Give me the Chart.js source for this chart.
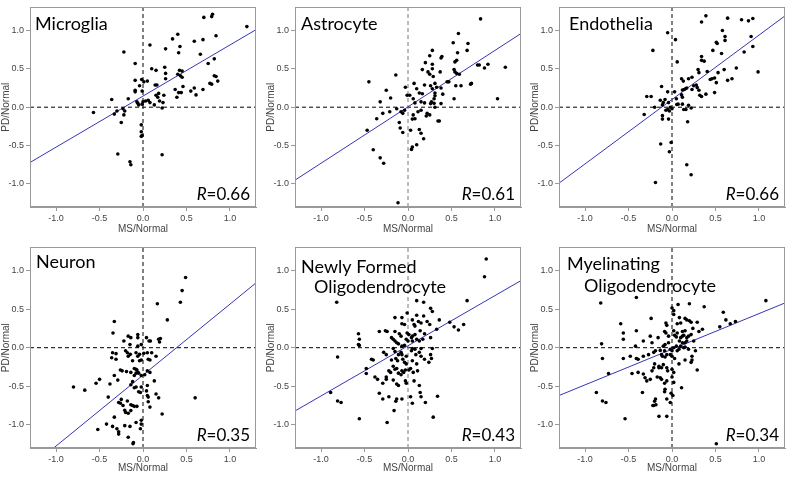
<!DOCTYPE html>
<html lang="en">
<head>
  <meta charset="UTF-8">
  <title>MS vs PD cell-type scatter</title>
  <script src="https://cdn.jsdelivr.net/npm/chart.js"></script>
  <style>
    body { margin: 0; background: #fff; }
    .panel { position: absolute; width: 260px; }
  </style>
</head>
<body>
  <div class="panel" style="left:0px;top:0px;height:238px"><canvas id="c0"></canvas></div>
  <div class="panel" style="left:265px;top:0px;height:238px"><canvas id="c1"></canvas></div>
  <div class="panel" style="left:529px;top:0px;height:238px"><canvas id="c2"></canvas></div>
  <div class="panel" style="left:0px;top:240px;height:237px"><canvas id="c3"></canvas></div>
  <div class="panel" style="left:265px;top:240px;height:237px"><canvas id="c4"></canvas></div>
  <div class="panel" style="left:529px;top:240px;height:237px"><canvas id="c5"></canvas></div>

<script>
// ---- data: [MS/Normal, PD/Normal] ----
const microglia = [[1.195,1.05],[0.70,1.17],[0.80,1.21],[0.79,1.18],[0.84,0.93],[0.69,0.88],[0.59,0.86],[0.34,0.89],[0.40,0.95],[0.425,0.79],[0.41,0.71],[0.26,0.76],[0.08,0.81],[-0.22,0.72],[0.66,0.69],[0.82,0.63],[0.75,0.57],[-0.09,0.57],[0.10,0.50],[0.15,0.48],[0.25,0.52],[0.26,0.44],[0.40,0.43],[0.42,0.48],[0.45,0.47],[0.43,0.41],[0.45,0.39],[0.26,0.37],[0.46,0.27],[0.82,0.41],[0.84,0.40],[0.86,0.34],[0.77,0.31],[0.79,0.30],[0.69,0.23],[0.59,0.25],[0.55,0.21],[0.61,0.16],[0.37,0.23],[0.41,0.19],[0.44,0.19],[0.39,0.13],[-0.015,0.36],[0.01,0.33],[-0.09,0.35],[-0.09,0.22],[-0.09,0.20],[-0.04,0.28],[-0.01,0.21],[0.05,0.34],[0.14,0.29],[0.16,0.29],[0.18,0.18],[0.15,0.155],[0.17,0.13],[0.06,0.09],[0.08,0.06],[0.03,0.08],[0.0,0.07],[-0.07,0.07],[-0.06,0.05],[-0.05,0.03],[-0.01,0.04],[0.13,0.03],[0.19,0.08],[0.23,0.06],[0.24,0.155],[0.22,-0.01],[-0.17,0.11],[-0.36,0.10],[-0.57,-0.07],[-0.33,-0.09],[-0.30,-0.05],[-0.23,-0.02],[-0.21,-0.05],[-0.22,-0.10],[-0.25,-0.20],[-0.02,-0.23],[-0.02,-0.32],[-0.01,-0.37],[-0.02,-0.38],[0.22,-0.62],[-0.29,-0.61],[-0.15,-0.71],[-0.14,-0.75]];

const astrocyte = [[0.58,0.96],[0.52,0.84],[0.69,0.83],[0.68,0.74],[0.28,0.74],[0.25,0.67],[0.39,0.66],[0.38,0.64],[0.57,0.71],[0.56,0.61],[0.54,0.59],[0.20,0.58],[0.165,0.49],[0.23,0.46],[0.25,0.43],[0.37,0.46],[0.53,0.49],[0.54,0.46],[0.56,0.44],[0.59,0.43],[0.82,0.55],[0.72,0.30],[0.61,0.28],[0.55,0.28],[0.45,0.33],[0.47,0.33],[0.38,0.25],[0.33,0.26],[0.28,0.24],[0.26,0.28],[0.19,0.29],[0.31,0.185],[0.31,0.15],[0.40,0.17],[0.53,0.11],[0.07,0.31],[0.10,0.24],[0.13,0.185],[0.165,0.175],[-0.03,0.26],[-0.01,0.155],[0.02,0.155],[0.06,0.11],[0.08,0.056],[0.15,0.07],[0.19,0.056],[0.27,0.07],[0.26,0.047],[0.30,0.11],[0.38,0.047],[0.22,-0.08],[0.21,-0.115],[0.115,-0.06],[0.15,-0.04],[0.06,-0.10],[0.05,-0.155],[0.08,-0.15],[-0.04,-0.04],[-0.08,-0.06],[-0.06,-0.08],[-0.13,-0.02],[-0.21,-0.06],[-0.29,-0.08],[-0.32,0.07],[-0.25,0.22],[-0.20,0.12],[-0.14,0.42],[-0.36,-0.15],[-0.10,-0.20],[-0.09,-0.27],[-0.06,-0.33],[0.03,-0.30],[0.13,-0.29],[0.15,-0.34],[0.18,-0.41],[0.345,-0.18],[0.36,-0.18],[0.10,-0.49],[0.05,-0.52],[0.04,-0.55],[-0.47,-0.30],[-0.40,-0.555],[-0.32,-0.66],[-0.28,-0.73],[0.835,1.15],[1.12,0.52],[1.03,0.11],[0.92,0.56],[0.88,0.51],[0.80,0.55],[0.73,0.31],[-0.115,-1.245],[-0.45,0.33],[0.28,0.56],[0.28,0.50],[0.29,0.40],[0.30,0.05],[0.31,0.00],[0.25,-0.10],[0.31,0.31]];

const endothelia = [[0.39,1.19],[0.34,1.11],[0.64,1.16],[0.80,1.14],[0.88,1.125],[0.93,1.155],[0.58,1.00],[0.61,0.92],[0.61,0.87],[0.91,0.92],[0.93,0.79],[0.51,0.845],[0.52,0.83],[0.47,0.74],[0.57,0.70],[0.83,0.72],[0.34,0.66],[0.34,0.61],[0.37,0.60],[0.06,0.59],[0.04,0.88],[-0.05,0.97],[-0.22,0.74],[0.74,0.51],[0.60,0.49],[0.405,0.465],[0.30,0.49],[0.31,0.45],[0.53,0.45],[0.99,0.46],[0.23,0.39],[0.46,0.37],[0.49,0.38],[0.44,0.36],[0.64,0.35],[0.69,0.37],[0.51,0.32],[0.11,0.37],[0.13,0.34],[0.19,0.37],[-0.12,0.27],[0.28,0.29],[0.29,0.255],[0.25,0.28],[0.17,0.25],[0.155,0.24],[0.14,0.23],[0.12,0.225],[0.31,0.22],[0.23,0.23],[0.32,0.155],[0.34,0.14],[0.39,0.17],[0.49,0.19],[-0.29,0.14],[-0.24,0.14],[-0.135,0.09],[-0.08,0.10],[-0.05,0.20],[0.03,0.20],[0.11,0.16],[0.12,0.13],[0.05,0.11],[-0.20,0.0],[-0.10,0.06],[-0.11,0.03],[-0.04,0.06],[-0.02,0.0],[0.0,-0.02],[0.055,0.035],[0.07,0.04],[0.12,0.04],[0.19,0.026],[0.22,-0.01],[0.135,-0.03],[0.16,-0.03],[-0.07,-0.04],[-0.03,-0.05],[-0.32,-0.095],[-0.11,-0.11],[-0.11,-0.155],[-0.04,-0.155],[0.18,-0.19],[-0.13,-0.48],[-0.01,-0.46],[-0.03,-0.58],[0.17,-0.75],[0.22,-0.88],[-0.19,-0.98],[-0.05,-0.03]];

const neuron = [[0.165,0.57],[0.28,0.36],[-0.33,0.34],[-0.345,0.19],[-0.17,0.15],[-0.14,0.13],[-0.06,0.17],[-0.06,0.13],[-0.22,0.086],[0.04,0.13],[0.07,0.086],[0.085,0.086],[0.18,0.11],[0.20,0.12],[0.19,0.073],[-0.06,0.02],[-0.02,0.04],[-0.15,0.04],[-0.20,-0.04],[-0.35,-0.065],[-0.31,-0.077],[-0.36,-0.13],[-0.31,-0.15],[-0.18,-0.065],[-0.146,-0.086],[-0.17,-0.11],[-0.08,-0.065],[-0.06,-0.11],[-0.04,-0.086],[0.01,-0.073],[0.05,-0.065],[0.10,-0.065],[-0.04,-0.17],[-0.02,-0.16],[0.06,-0.15],[0.08,-0.16],[0.15,-0.11],[-0.12,-0.17],[-0.26,-0.29],[-0.24,-0.30],[-0.19,-0.31],[-0.14,-0.32],[-0.10,-0.27],[-0.08,-0.28],[-0.07,-0.29],[-0.06,-0.32],[-0.05,-0.33],[-0.08,-0.33],[-0.10,-0.36],[-0.02,-0.36],[0.02,-0.35],[0.05,-0.30],[0.08,-0.32],[-0.33,-0.36],[-0.29,-0.42],[-0.50,-0.41],[-0.54,-0.46],[-0.38,-0.47],[-0.80,-0.51],[-0.67,-0.55],[-0.12,-0.44],[-0.14,-0.48],[-0.10,-0.52],[-0.08,-0.51],[-0.02,-0.51],[0.13,-0.43],[0.05,-0.49],[0.15,-0.60],[0.18,-0.65],[0.06,-0.64],[-0.05,-0.57],[-0.03,-0.58],[-0.40,-0.64],[-0.25,-0.67],[-0.28,-0.71],[-0.26,-0.72],[-0.23,-0.75],[-0.18,-0.69],[-0.14,-0.74],[-0.12,-0.75],[-0.10,-0.76],[-0.21,-0.81],[-0.20,-0.84],[-0.17,-0.85],[-0.14,-0.815],[-0.07,-0.76],[0.04,-0.56],[0.05,-0.62],[0.08,-0.77],[0.22,-0.86],[0.06,-0.70],[-0.33,-0.90],[-0.42,-0.99],[-0.35,-1.02],[-0.52,-1.06],[-0.30,-1.05],[-0.28,-1.09],[-0.28,-1.12],[-0.21,-1.01],[-0.15,-1.02],[-0.08,-0.97],[-0.02,-0.94],[-0.02,-0.99],[-0.03,-1.05],[-0.17,-1.16],[-0.11,-1.23],[-0.115,-1.245],[0.49,0.91],[0.45,0.74],[0.43,0.59],[0.60,-0.65]];

const newlyFormed = [[-0.82,0.59],[0.10,0.61],[0.18,0.59],[0.26,0.51],[0.28,0.47],[0.36,0.36],[-0.15,0.39],[-0.07,0.39],[-0.01,0.45],[0.10,0.42],[0.18,0.41],[0.12,0.34],[0.15,0.32],[-0.07,0.31],[-0.04,0.30],[0.05,0.36],[0.07,0.30],[0.08,0.28],[0.22,0.34],[0.25,0.30],[-0.26,0.22],[-0.24,0.21],[-0.33,0.21],[-0.15,0.21],[-0.10,0.18],[-0.08,0.15],[-0.01,0.19],[0.01,0.17],[0.05,0.15],[0.08,0.17],[0.14,0.22],[0.19,0.18],[-0.57,0.18],[-0.56,0.11],[-0.57,0.04],[-0.56,0.03],[-0.19,0.13],[-0.17,0.11],[-0.15,0.086],[-0.13,0.064],[-0.11,0.05],[-0.02,0.11],[0.0,0.086],[0.04,0.13],[0.05,0.086],[0.10,0.11],[0.13,0.086],[0.17,0.11],[0.28,-0.01],[-0.07,0.02],[-0.04,0.03],[0.05,-0.01],[0.08,-0.02],[0.15,-0.01],[-0.17,-0.01],[-0.15,-0.05],[-0.11,-0.09],[-0.08,-0.06],[-0.07,-0.09],[-0.02,-0.11],[0.04,-0.04],[0.09,-0.09],[0.13,-0.06],[0.15,-0.11],[0.26,-0.09],[0.27,-0.14],[-0.81,-0.12],[-0.28,-0.06],[-0.25,-0.09],[-0.42,-0.15],[-0.40,-0.16],[-0.19,-0.16],[-0.14,-0.14],[-0.12,-0.17],[-0.06,-0.15],[-0.04,-0.19],[-0.02,-0.21],[0.05,-0.17],[0.10,-0.21],[0.19,-0.15],[0.24,-0.19],[-0.48,-0.27],[-0.17,-0.24],[-0.13,-0.27],[-0.15,-0.28],[-0.22,-0.30],[-0.20,-0.32],[-0.07,-0.30],[-0.05,-0.32],[-0.03,-0.29],[-0.11,-0.33],[-0.08,-0.35],[0.01,-0.29],[0.03,-0.27],[0.06,-0.32],[0.11,-0.30],[-0.48,-0.335],[-0.38,-0.38],[-0.35,-0.41],[-0.25,-0.38],[-0.25,-0.41],[-0.29,-0.46],[-0.17,-0.42],[-0.13,-0.47],[-0.11,-0.49],[-0.03,-0.43],[-0.02,-0.46],[0.07,-0.43],[0.13,-0.49],[-0.33,-0.59],[-0.29,-0.665],[-0.22,-0.635],[-0.13,-0.665],[-0.14,-0.695],[-0.07,-0.665],[0.03,-0.635],[0.14,-0.58],[0.15,-0.635],[0.05,-0.72],[0.20,-0.71],[-0.89,-0.58],[-0.81,-0.69],[-0.77,-0.71],[-0.16,-0.815],[-0.56,-0.92],[0.29,-0.90],[0.90,1.15],[0.88,0.92],[0.68,0.61],[0.48,0.33],[0.53,0.27],[0.58,0.23],[0.64,0.30],[0.33,0.24],[0.34,-0.63],[-0.24,-0.97],[0.26,0.13]];

const myelinating = [[-0.82,0.58],[-0.41,0.65],[0.07,0.56],[0.20,0.57],[0.37,0.53],[0.0,0.515],[0.02,0.48],[-0.24,0.38],[0.02,0.43],[0.085,0.39],[0.15,0.38],[0.17,0.36],[0.20,0.35],[0.22,0.33],[0.29,0.33],[-0.07,0.32],[-0.06,0.29],[-0.59,0.31],[0.06,0.31],[0.10,0.32],[-0.41,0.22],[-0.56,0.19],[-0.085,0.21],[-0.07,0.19],[0.02,0.22],[0.06,0.19],[0.12,0.21],[0.15,0.22],[0.24,0.25],[0.31,0.21],[0.35,0.24],[-0.56,0.11],[-0.25,0.15],[-0.16,0.13],[-0.04,0.15],[0.03,0.16],[0.05,0.14],[0.10,0.13],[0.12,0.15],[0.135,0.16],[0.17,0.13],[0.19,0.15],[0.22,0.17],[0.085,0.086],[0.12,0.064],[0.15,0.064],[0.17,0.086],[0.25,0.086],[-0.81,0.05],[-0.33,0.086],[-0.23,0.064],[-0.42,0.02],[-0.10,0.02],[-0.08,0.04],[-0.04,0.064],[0.02,0.0],[0.05,0.02],[0.10,0.02],[0.135,0.0],[0.15,0.01],[-0.02,-0.02],[0.0,-0.04],[-0.085,-0.04],[-0.135,-0.035],[-0.19,-0.04],[0.06,-0.04],[0.08,-0.02],[0.19,-0.02],[0.23,-0.11],[0.27,-0.04],[-0.80,-0.14],[-0.56,-0.14],[-0.48,-0.11],[-0.41,-0.14],[-0.39,-0.15],[-0.33,-0.11],[-0.27,-0.09],[-0.21,-0.06],[-0.12,-0.09],[-0.11,-0.11],[-0.08,-0.12],[-0.06,-0.09],[-0.02,-0.09],[0.0,-0.11],[0.03,-0.14],[0.15,-0.16],[0.22,-0.19],[0.23,-0.16],[0.08,-0.21],[-0.20,-0.21],[-0.15,-0.24],[-0.15,-0.26],[-0.12,-0.26],[-0.10,-0.22],[-0.06,-0.26],[-0.05,-0.30],[0.0,-0.28],[0.02,-0.32],[-0.21,-0.26],[-0.23,-0.30],[0.29,-0.29],[-0.73,-0.335],[-0.46,-0.335],[-0.39,-0.32],[-0.33,-0.34],[-0.31,-0.39],[-0.29,-0.43],[-0.17,-0.38],[-0.135,-0.39],[-0.12,-0.41],[0.0,-0.38],[-0.06,-0.43],[-0.085,-0.46],[-0.25,-0.41],[0.02,-0.45],[0.11,-0.52],[-0.08,-0.54],[-0.085,-0.57],[-0.01,-0.59],[0.01,-0.62],[-0.34,-0.58],[-0.87,-0.58],[-0.80,-0.69],[-0.76,-0.71],[-0.19,-0.665],[-0.20,-0.695],[-0.21,-0.75],[-0.185,-0.74],[-0.22,-0.75],[-0.06,-0.665],[-0.02,-0.71],[-0.15,-0.89],[-0.06,-0.89],[-0.54,-0.92],[1.08,0.61],[0.73,0.34],[0.59,0.46],[0.62,0.36],[0.55,0.27],[0.67,0.31],[0.51,-1.245]];

const panelNames = [['Microglia'], ['Astrocyte'], ['Endothelia'], ['Neuron'], ['Newly Formed', 'Oligodendrocyte'], ['Myelinating', 'Oligodendrocyte']];
const rValues = ['0.66', '0.61', '0.66', '0.35', '0.43', '0.34'];
const panelData = [microglia, astrocyte, endothelia, neuron, newlyFormed, myelinating];
// fitted line, PD/Normal at MS/Normal = -1.3 and +1.3
const fitLeft = [-0.72, -0.95, -0.99, -1.55, -0.82, -0.62];
const fitRight = [1.01, 0.96, 1.19, 0.84, 0.87, 0.58];
const axisMin = -1.3, axisMax = 1.3;
const tickValues = [-1.0, -0.5, 0.0, 0.5, 1.0];

// layout bits (relative to the plot box)
const titleOffsets = [
  [[5, 23]], [[6, 23]], [[10, 23]],
  [[6, 21]], [[6, 26], [19, 46]], [[8, 23], [25, 45]]
];
const vLineColor = ['#000', '#777', '#000', '#000', '#777', '#000'];

const panelText = {
  id: 'panelText',
  afterDraw(chart, args, opts) {
    const ctx = chart.ctx, a = chart.chartArea;
    ctx.save();
    // frame around plot
    ctx.strokeStyle = '#999';
    ctx.lineWidth = 1;
    ctx.strokeRect(Math.round(a.left) + 0.5, Math.round(a.top) + 0.5, Math.round(a.right - a.left) - 1, Math.round(a.bottom - a.top) - 1);
    ctx.fillStyle = '#000';
    ctx.textBaseline = 'alphabetic';
    ctx.textAlign = 'left';
    ctx.font = '18px Lato';
    opts.lines.forEach((line, i) => {
      const o = opts.offsets[i];
      ctx.fillText(line, a.left + o[0], a.top + o[1]);
    });
    // R=value, italic R
    ctx.font = '17px Lato';
    const rest = '=' + opts.r;
    const wRest = ctx.measureText(rest).width;
    ctx.font = 'italic 17px Lato';
    const wR = ctx.measureText('R').width;
    const xEnd = a.right - 6, yBase = a.bottom - 7;
    ctx.fillText('R', xEnd - wRest - wR, yBase);
    ctx.font = '17px Lato';
    ctx.fillText(rest, xEnd - wRest, yBase);
    ctx.restore();
  }
};

function makePanel(i) {
  const xAxisH = i < 3 ? 31 : 29;
  const tickFont = { family: 'Liberation Sans', size: 9 };
  const titleFont = { family: 'Liberation Sans', size: 10 };
  const common = {
    type: 'linear',
    min: axisMin,
    max: axisMax,
    afterBuildTicks: s => { s.ticks = tickValues.map(v => ({ value: v })); },
    ticks: { callback: v => v.toFixed(1), font: tickFont, color: '#444', autoSkip: false, maxRotation: 0, padding: 2 },
    grid: { drawOnChartArea: false, tickLength: 4, color: '#999' },
    border: { color: '#999' }
  };
  new Chart(document.getElementById('c' + i), {
    type: 'scatter',
    data: {
      datasets: [
        {
          data: panelData[i].map(p => ({ x: p[0], y: p[1] })),
          pointRadius: 1.8,
          pointBackgroundColor: '#000',
          pointBorderWidth: 0
        },
        {
          type: 'line',
          data: [{ x: axisMin, y: fitLeft[i] }, { x: axisMax, y: fitRight[i] }],
          borderColor: '#3535b5',
          borderWidth: 1,
          pointRadius: 0
        },
        {
          type: 'line',
          data: [{ x: 0, y: axisMin }, { x: 0, y: axisMax }],
          borderColor: vLineColor[i],
          borderWidth: 1,
          borderDash: [4, 3],
          pointRadius: 0
        },
        {
          type: 'line',
          data: [{ x: axisMin, y: 0 }, { x: axisMax, y: 0 }],
          borderColor: '#000',
          borderWidth: 1,
          borderDash: [4, 3],
          pointRadius: 0
        }
      ]
    },
    options: {
      responsive: true,
      maintainAspectRatio: false,
      animation: false,
      layout: { padding: { top: 4, right: 3, left: 0, bottom: 0 } },
      plugins: {
        legend: { display: false },
        tooltip: { enabled: false },
        panelText: { lines: panelNames[i], offsets: titleOffsets[i], r: rValues[i] }
      },
      scales: {
        x: Object.assign({}, common, {
          title: { display: true, text: 'MS/Normal', font: titleFont, color: '#444', padding: { top: 0, bottom: 3 } },
          afterFit: s => { s.height = xAxisH; }
        }),
        y: Object.assign({}, common, {
          title: { display: true, text: 'PD/Normal', font: titleFont, color: '#444', padding: { top: 0, bottom: 1 } },
          afterFit: s => { s.width = 30; }
        })
      }
    },
    plugins: [panelText]
  });
}

for (let i = 0; i < 6; i++) makePanel(i);
</script>
</body>
</html>
